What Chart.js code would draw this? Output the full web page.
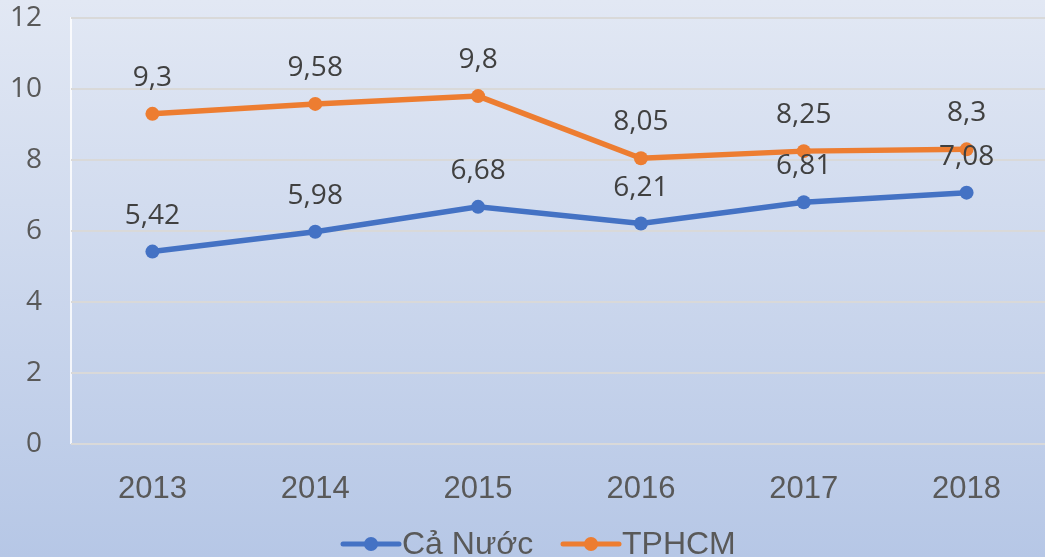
<!DOCTYPE html>
<html>
<head>
<meta charset="utf-8">
<script src="https://cdn.jsdelivr.net/npm/chart.js@4/dist/chart.umd.min.js"></script>
<style>
  html, body { margin: 0; padding: 0; overflow: hidden; background: #c9d6ee; }
  #wrap { width: 1055px; height: 557px; }
</style>
</head>
<body>
<div id="wrap"><canvas id="chart"></canvas></div>
<script>
// chart data
const years = ['2013', '2014', '2015', '2016', '2017', '2018'];
const caNuoc = [5.42, 5.98, 6.68, 6.21, 6.81, 7.08];
const tphcm = [9.3, 9.58, 9.8, 8.05, 8.25, 8.3];
const seriesNames = ['Cả Nước', 'TPHCM'];
const yTicks = [0, 2, 4, 6, 8, 10, 12];

const blue = '#4472c4';
const orange = '#ed7d31';

// gradient background + plot area edge
const backgroundPlugin = {
    id: 'bg',
    beforeDraw(chart) {
        const { ctx, width, height, chartArea } = chart;
        const g = ctx.createLinearGradient(0, 0, 0, height);
        g.addColorStop(0, '#e2e8f4');
        g.addColorStop(1, '#b6c7e6');
        ctx.save();
        ctx.fillStyle = g;
        ctx.fillRect(0, 0, width, height);
        ctx.strokeStyle = 'rgba(255,255,255,0.8)';
        ctx.lineWidth = 2;
        ctx.beginPath();
        ctx.moveTo(chartArea.left, chartArea.bottom);
        ctx.lineTo(chartArea.left, chartArea.top);
        ctx.lineTo(chartArea.right, chartArea.top);
        ctx.stroke();
        ctx.restore();
    }
};

// value labels above each point
const labelPlugin = {
    id: 'valueLabels',
    afterDatasetsDraw(chart) {
        const ctx = chart.ctx;
        ctx.save();
        ctx.font = '28px "Open Sans"';
        ctx.fillStyle = '#404040';
        ctx.textAlign = 'center';
        ctx.textBaseline = 'middle';
        chart.data.datasets.forEach((ds, i) => {
            const meta = chart.getDatasetMeta(i);
            meta.data.forEach((pt, j) => {
                const txt = String(ds.data[j]).replace('.', ',');
                ctx.fillText(txt, pt.x, pt.y - 36);
            });
        });
        ctx.restore();
    }
};

// legend at the bottom: line with dot + name
const legendPlugin = {
    id: 'bottomLegend',
    afterDraw(chart) {
        const ctx = chart.ctx;
        const y = 544;
        const items = [
            { x: 343, color: blue, name: seriesNames[0] },
            { x: 563, color: orange, name: seriesNames[1] }
        ];
        ctx.save();
        ctx.font = '32px "Liberation Sans", Arial, sans-serif';
        ctx.textBaseline = 'middle';
        ctx.textAlign = 'left';
        items.forEach(it => {
            ctx.strokeStyle = it.color;
            ctx.lineWidth = 5;
            ctx.lineCap = 'round';
            ctx.beginPath();
            ctx.moveTo(it.x, y);
            ctx.lineTo(it.x + 56, y);
            ctx.stroke();
            ctx.fillStyle = it.color;
            ctx.beginPath();
            ctx.arc(it.x + 28, y, 7, 0, Math.PI * 2);
            ctx.fill();
            ctx.fillStyle = '#595959';
            ctx.fillText(it.name, it.x + 59, y + 1);
        });
        ctx.restore();
    }
};

const ctx = document.getElementById('chart').getContext('2d');
const chart = new Chart(ctx, {
    type: 'line',
    data: {
        labels: years,
        datasets: [{
            label: seriesNames[0],
            data: caNuoc,
            borderColor: blue,
            backgroundColor: blue,
            borderWidth: 5.5,
            pointRadius: 7,
            pointBorderWidth: 0,
            tension: 0
        }, {
            label: seriesNames[1],
            data: tphcm,
            borderColor: orange,
            backgroundColor: orange,
            borderWidth: 5.5,
            pointRadius: 7,
            pointBorderWidth: 0,
            tension: 0
        }]
    },
    options: {
        responsive: true,
        maintainAspectRatio: false,
        animation: false,
        layout: {
            padding: { top: 18, right: 2, bottom: 0, left: 0 }
        },
        plugins: {
            legend: { display: false },
            tooltip: { enabled: false }
        },
        scales: {
            x: {
                offset: true,
                grid: { display: false },
                border: { display: false },
                ticks: {
                    color: '#595959',
                    padding: 19,
                    font: { family: '"Liberation Sans", Arial, sans-serif', size: 31 }
                },
                afterFit(scale) {
                    scale.height = 113;
                    scale.paddingLeft = 0;
                    scale.paddingRight = 0;
                }
            },
            y: {
                min: 0,
                max: 12,
                afterBuildTicks(scale) {
                    scale.ticks = yTicks.map(v => ({ value: v }));
                },
                grid: {
                    color: '#d9d9d9',
                    lineWidth: 2,
                    drawTicks: false
                },
                border: { display: false },
                ticks: {
                    color: '#595959',
                    padding: 29,
                    font: { family: '"Open Sans"', size: 28 }
                },
                afterFit(scale) {
                    scale.width = 71;
                    scale.paddingTop = 0;
                    scale.paddingBottom = 0;
                }
            }
        }
    },
    plugins: [backgroundPlugin, labelPlugin, legendPlugin]
});
</script>
</body>
</html>
